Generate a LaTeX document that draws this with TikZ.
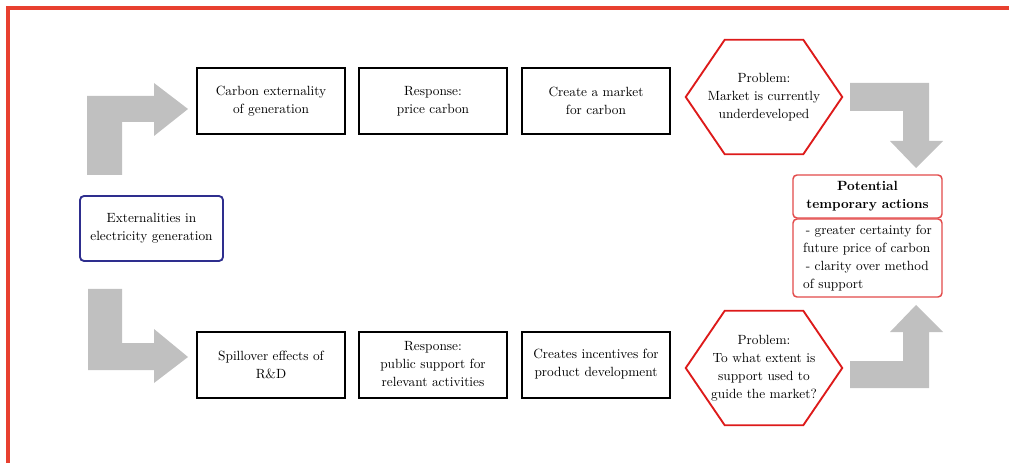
\documentclass[tikz,border=0pt]{standalone}
\usepackage{tikz}

\definecolor{framered}{HTML}{E8402F}
\definecolor{hexred}{HTML}{DD1A1A}
\definecolor{boxred}{HTML}{E24A4A}
\definecolor{navyline}{HTML}{2E2E8E}
\definecolor{arrowgrey}{HTML}{C0C0C0}

\tikzset{
  txt/.style={font=\fontsize{10}{13.5}\selectfont, align=center, inner sep=1pt},
  stepbox/.style={txt, draw, line width=1.5pt, minimum width=111pt, minimum height=49.5pt},
  hexnode/.style={txt, minimum width=117pt, minimum height=85.5pt},
  hexline/.style={draw=hexred, line width=1.4pt, line join=miter},
  redbox/.style={txt, draw=boxred, line width=1.1pt, rounded corners=3pt, minimum width=111.75pt},
  bentarrow/.style={fill=arrowgrey, draw=none},
}

\begin{document}
\begin{tikzpicture}[x=0.75pt,y=-0.75pt]
\useasboundingbox (0,0) rectangle (1010,463);
% frame
\draw[framered, line width=3pt] (8,463) -- (8,8) -- (1009,8);

% start
\node[txt, draw=navyline, line width=1.4pt, rounded corners=3pt,
      minimum width=107.25pt, minimum height=48.75pt] (ext) at (151.5,228.5)
      {Externalities in\\electricity generation};

% grey bent arrows
\fill[bentarrow] (87,175) -- (87,96) -- (154,96) -- (154,83) -- (188,109)
  -- (154,136) -- (154,122) -- (122,122) -- (122,175) -- cycle;
\fill[bentarrow] (88,289) -- (122,289) -- (122,343) -- (154,343) -- (154,329)
  -- (188,357) -- (154,383) -- (154,370) -- (88,370) -- cycle;
\fill[bentarrow] (850,83) -- (929,83) -- (929,141) -- (943,141) -- (916,168)
  -- (890,141) -- (903,141) -- (903,111) -- (850,111) -- cycle;
\fill[bentarrow] (850,388) -- (850,361) -- (903,361) -- (903,332) -- (890,332)
  -- (916,305) -- (943,332) -- (929,332) -- (929,388) -- cycle;

% carbon row
\node[stepbox] (carbon) at (271,101) {Carbon externality\\of generation};
\node[stepbox] (price) at (433,101) {Response:\\price carbon};
\node[stepbox] (market) at (596,101) {Create a market\\for carbon};
\node[hexnode] (prob1) at (764,97) {Problem:\\Market is currently\\underdeveloped};
\draw[hexline] (prob1.west) -- ([xshift=29.25pt]prob1.north west)
  -- ([xshift=-29.25pt]prob1.north east) -- (prob1.east)
  -- ([xshift=-29.25pt]prob1.south east) -- ([xshift=29.25pt]prob1.south west) -- cycle;

% R&D row
\node[stepbox] (spill) at (271,364.5) {Spillover effects of\\R\&D};
\node[stepbox] (support) at (433,364.5) {Response:\\public support for\\relevant activities};
\node[stepbox] (incent) at (596,364.5) {Creates incentives for\\product development};
\node[hexnode] (prob2) at (764,368) {Problem:\\To what extent is\\support used to\\guide the market?};
\draw[hexline] (prob2.west) -- ([xshift=29.25pt]prob2.north west)
  -- ([xshift=-29.25pt]prob2.north east) -- (prob2.east)
  -- ([xshift=-29.25pt]prob2.south east) -- ([xshift=29.25pt]prob2.south west) -- cycle;

% temporary actions
\node[redbox, minimum height=32.25pt] (pot) at (867.5,196.5)
  {\textbf{Potential}\\\textbf{temporary actions}};
\node[redbox, minimum height=58.5pt, align=left] (actions) at (867.5,258)
  {\hspace{2pt}- greater certainty for\\future price of carbon\\\hspace{2pt}- clarity over method\\of support};
\end{tikzpicture}
\end{document}
